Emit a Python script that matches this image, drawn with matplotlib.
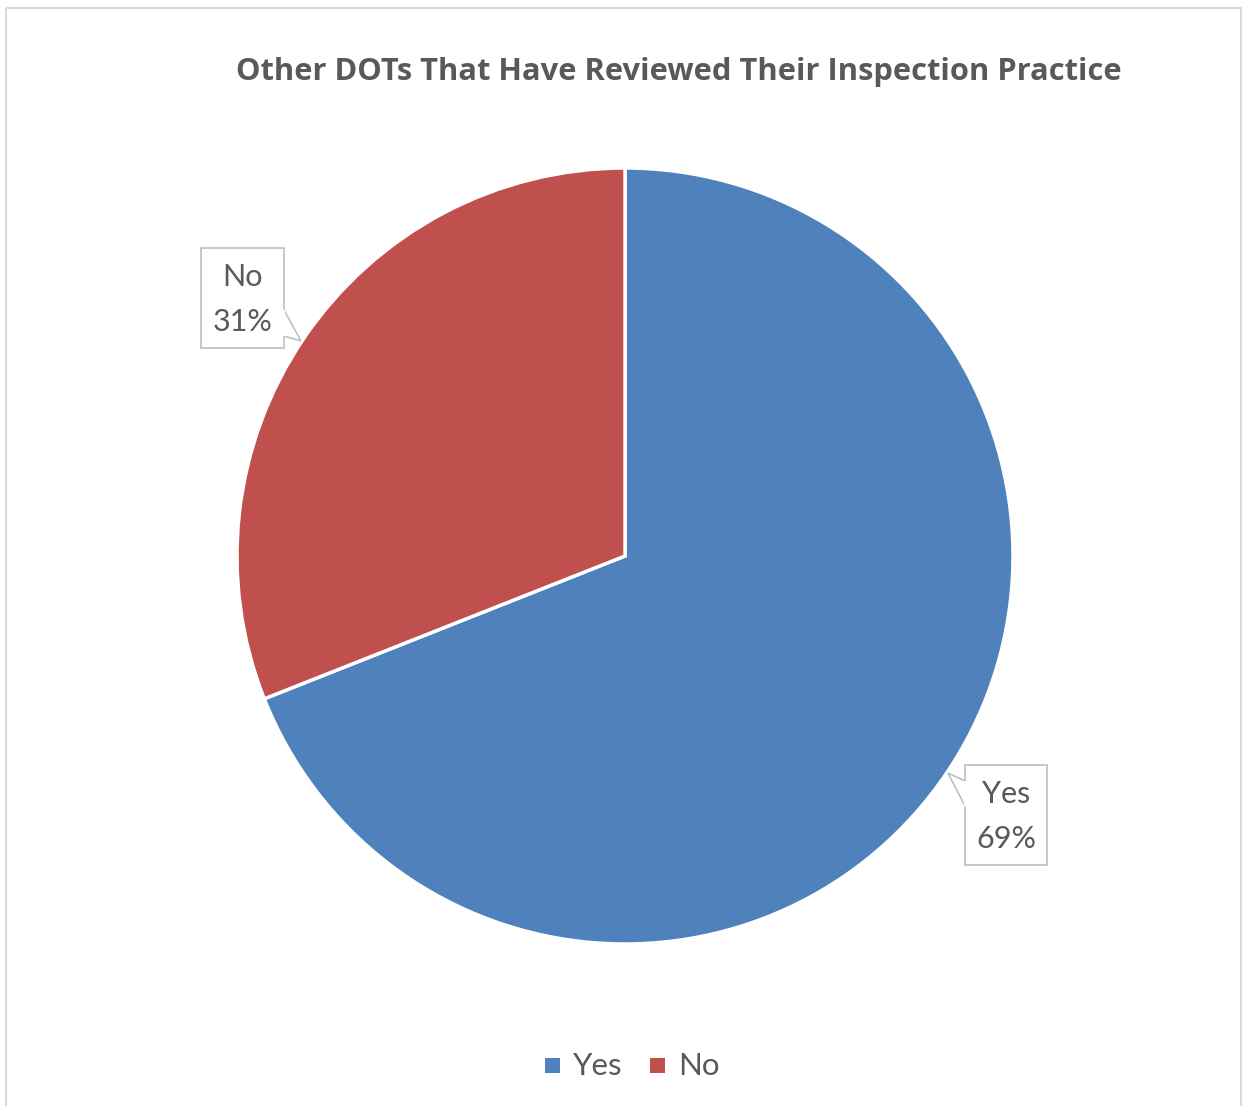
import matplotlib
matplotlib.use("Agg")
import matplotlib.pyplot as plt
from matplotlib.patches import Polygon, Rectangle

categories = ["Yes", "No"]
shares = [69, 31]
colors = ["#4F81BD", "#C0504D"]
title = "Other DOTs That Have Reviewed Their Inspection Practice"

W, H = 1243, 1106
fig = plt.figure(figsize=(W / 100, H / 100), dpi=100)
ax = fig.add_axes([0, 0, 1, 1])
ax.set_xlim(0, W)
ax.set_ylim(H, 0)
ax.set_aspect("equal")
ax.axis("off")

font = "Lato"
txt_color = "#595959"

# chart frame
ax.add_patch(Rectangle((6, 8), 1235, 1110, fill=False, ec="#D9D9D9", lw=1.5))

# pie (y axis inverted, so clockwise on screen is counterclock in data)
cx, cy, r = 625, 556, 388
wedges, _ = ax.pie(shares, colors=colors, startangle=-90, counterclock=True,
                   center=(cx, cy), radius=r, frame=True,
                   wedgeprops=dict(edgecolor="white", linewidth=2.5))
ax.set_xlim(0, W)
ax.set_ylim(H, 0)
ax.axis("off")

ax.text(679, 72, title, ha="center", va="center", fontsize=22.2,
        fontweight="bold", color=txt_color, family="Open Sans")


def callout(box, tail, lines):
    x0, y0, x1, y1 = box
    poly = Polygon(tail, closed=True, fc="white", ec="#BFBFBF", lw=1.2)
    ax.add_patch(poly)
    ax.add_patch(Rectangle((x0, y0), x1 - x0, y1 - y0, fc="white",
                           ec="#BFBFBF", lw=1.2))
    # hide the shared edge between box and tail
    ax.plot([tail[0][0], tail[2][0]], [tail[0][1] + 1, tail[2][1] - 1],
            color="white", lw=1.6)
    xm = (x0 + x1) / 2
    ax.text(xm, y0 + 29, lines[0], ha="center", va="center", fontsize=22,
            color=txt_color, family=font)
    ax.text(xm, y0 + 74, lines[1], ha="center", va="center", fontsize=22,
            color=txt_color, family=font)


callout((201, 248, 284, 348), [(284, 310), (301, 341), (284, 336)],
        [categories[1], f"{shares[1]}%"])
callout((965, 765, 1047, 865), [(965, 781), (948, 773), (965, 806)],
        [categories[0], f"{shares[0]}%"])

# legend
ax.add_patch(Rectangle((545, 1058), 15, 15, fc=colors[0], ec="none"))
ax.text(573, 1066, categories[0], ha="left", va="center", fontsize=22.5,
        color=txt_color, family=font)
ax.add_patch(Rectangle((650, 1058), 15, 15, fc=colors[1], ec="none"))
ax.text(678, 1066, categories[1], ha="left", va="center", fontsize=22.5,
        color=txt_color, family=font)

fig.savefig("out.png", dpi=100, facecolor="white")
